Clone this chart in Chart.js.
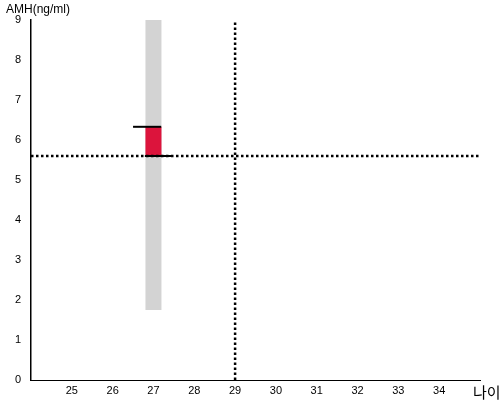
<!DOCTYPE html>
<html>
<head>
<meta charset="utf-8">
<script src="https://cdn.jsdelivr.net/npm/chart.js@4/dist/chart.umd.min.js"></script>
<style>
  html, body { margin: 0; padding: 0; background: #fff; }
  #wrap { width: 500px; height: 400px; }
</style>
</head>
<body>
<div id="wrap"><canvas id="chart"></canvas></div>
<script>
// reference values
const ages = [27];
const normalLow = [1.75];
const normalHigh = [9];
const patientLow = [5.6];
const patientHigh = [6.33];
const refAge = [29];
const refAmh = [5.6];
const topMarkX = [26.5, 27.19];
const bottomMarkX = [26.79, 27.45];
const yTicks = [0, 1, 2, 3, 4, 5, 6, 7, 8, 9];
const xTicks = [25, 26, 27, 28, 29, 30, 31, 32, 33, 34];

const seg = (x0, y0, x1, y1) => [{ x: x0, y: y0 }, { x: x1, y: y1 }];

const textPlugin = {
  id: "labels",
  afterDraw(chart) {
    const ctx = chart.ctx;
    ctx.save();
    ctx.fillStyle = "#000";
    ctx.textBaseline = "top";
    ctx.font = "12px 'Liberation Sans', Arial, sans-serif";
    ctx.fillText("AMH(ng/ml)", 6, 4);
    ctx.textBaseline = "alphabetic";
    ctx.font = "15px 'Noto Sans CJK KR', sans-serif";
    ctx.fillText("나이", 473, 398);
    ctx.restore();
  },
};

// higher order is drawn first (further back)
new Chart(document.getElementById("chart"), {
  type: "line",
  data: {
    datasets: [
      {
        data: seg(ages[0], normalLow[0], ages[0], normalHigh[0]),
        borderColor: "#d3d3d3",
        borderWidth: 16,
        borderCapStyle: "butt",
        order: 6,
      },
      {
        data: seg(ages[0], patientLow[0], ages[0], patientHigh[0]),
        borderColor: "#dc143c",
        borderWidth: 16,
        borderCapStyle: "butt",
        order: 5,
      },
      {
        data: seg(24, refAmh[0], 35, refAmh[0]),
        borderColor: "#000",
        borderWidth: 2.5,
        borderDash: [2.5, 2.5],
        borderCapStyle: "butt",
        order: 4,
      },
      {
        data: seg(refAge[0], 0, refAge[0], 9),
        borderColor: "#000",
        borderWidth: 2.5,
        borderDash: [2.5, 2.5],
        borderCapStyle: "butt",
        order: 3,
      },
      {
        data: seg(topMarkX[0], patientHigh[0], topMarkX[1], patientHigh[0]),
        borderColor: "#000",
        borderWidth: 2,
        borderCapStyle: "butt",
        order: 2,
      },
      {
        data: seg(bottomMarkX[0], patientLow[0], bottomMarkX[1], patientLow[0]),
        borderColor: "#000",
        borderWidth: 2,
        borderCapStyle: "butt",
        order: 1,
      },
    ],
  },
  options: {
    responsive: true,
    maintainAspectRatio: false,
    animation: false,
    elements: { point: { radius: 0 } },
    layout: { padding: { top: 20, right: 20, left: 0, bottom: 0 } },
    plugins: { legend: { display: false }, tooltip: { enabled: false } },
    scales: {
      x: {
        type: "linear",
        min: 24,
        max: 35,
        afterBuildTicks: (s) => { s.ticks = xTicks.map((v) => ({ value: v })); },
        afterFit: (s) => { s.height = 20; },
        grid: { display: false, drawTicks: false },
        border: { display: true, color: "#000", width: 1 },
        ticks: { color: "#000", padding: 4, font: { size: 11, family: "'Liberation Sans', Arial" } },
      },
      y: {
        type: "linear",
        min: 0,
        max: 9,
        afterBuildTicks: (s) => { s.ticks = yTicks.map((v) => ({ value: v })); },
        afterFit: (s) => { s.width = 31; },
        grid: { display: false, drawTicks: false },
        border: { display: true, color: "#000", width: 1.5 },
        ticks: { color: "#000", padding: 10, font: { size: 11, family: "'Liberation Sans', Arial" } },
      },
    },
  },
  plugins: [textPlugin],
});
</script>
</body>
</html>
